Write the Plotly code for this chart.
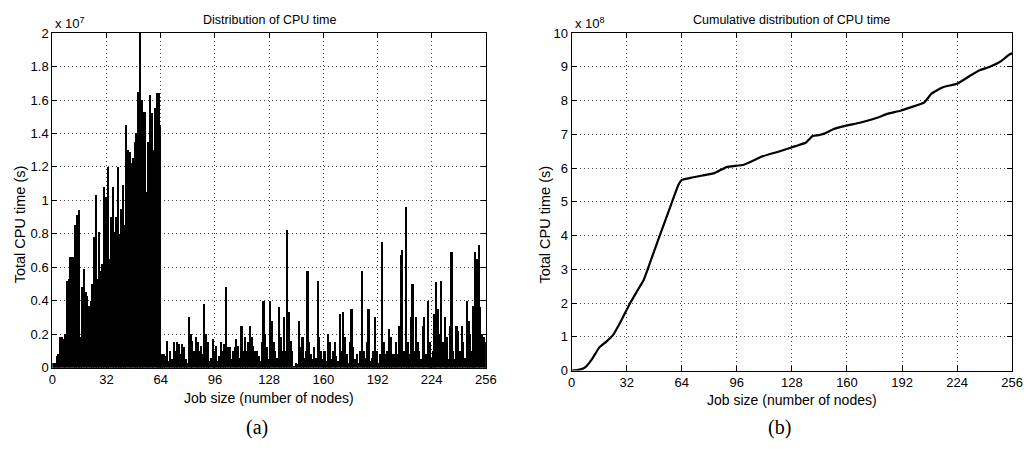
import plotly.graph_objects as go
import numpy as np

# ---------------- data ----------------
job_sizes = list(range(1, 257))
# total CPU time per job size, in units of 1e6 s
cpu_time_1e6 = [
    0.3, 0.3, 0.7, 0.8, 1.8, 1.8, 1.7, 2.0, 5.2, 5.3, 6.6, 6.6, 6.6, 8.5, 9.1, 9.4,
    1.8, 4.8, 5.9, 4.5, 4.3, 3.7, 4.0, 5.0, 7.8, 10.3, 5.3, 8.1, 5.8, 6.2, 10.8, 10.2,
    12.0, 6.5, 9.0, 10.8, 8.1, 9.0, 12.0, 8.0, 9.5, 10.9, 8.5, 14.5, 13.0, 12.9, 12.2, 12.5,
    13.5, 14.0, 16.5, 20.0, 16.0, 15.3, 15.3, 10.5, 13.5, 16.3, 15.2, 13.0, 15.5, 16.4, 16.4, 14.5,
    0.8, 0.8, 0.7, 1.6, 0.4, 1.0, 0.5, 1.5, 1.0, 1.5, 1.4, 0.8, 1.4, 1.2, 0.5, 0.3,
    3.0, 2.0, 1.6, 1.0, 1.8, 1.5, 1.0, 1.3, 0.8, 3.8, 2.0, 1.5, 0.4, 0.6, 1.7, 1.0,
    1.3, 0.4, 0.7, 1.5, 1.0, 1.4, 4.8, 1.2, 1.2, 0.5, 1.0, 1.2, 1.7, 1.3, 0.6, 2.5,
    1.0, 1.8, 1.0, 1.5, 2.5, 1.8, 1.3, 1.0, 1.0, 0.7, 0.4, 1.5, 4.0, 2.0, 1.2, 0.5,
    4.0, 2.8, 1.5, 1.0, 0.6, 3.6, 1.8, 1.0, 3.0, 1.0, 8.2, 3.3, 1.6, 1.0, 0.1, 0.3,
    0.2, 2.8, 1.2, 1.8, 0.6, 1.0, 5.8, 1.5, 0.8, 0.5, 1.2, 0.6, 5.2, 1.8, 1.0, 0.5,
    1.0, 0.4, 2.0, 1.5, 0.5, 1.0, 1.5, 0.7, 0.4, 3.2, 1.0, 3.3, 1.8, 0.8, 0.3, 1.5,
    3.5, 1.2, 0.5, 0.8, 0.3, 1.0, 5.8, 1.0, 0.6, 1.5, 3.5, 0.4, 0.6, 1.0, 3.0, 1.0,
    0.3, 0.8, 7.5, 1.5, 0.8, 1.0, 2.3, 1.8, 0.8, 0.8, 1.5, 0.8, 2.5, 6.7, 7.0, 1.0,
    9.6, 1.5, 0.8, 3.0, 5.0, 1.0, 3.0, 1.5, 1.0, 0.5, 2.5, 3.0, 0.8, 4.0, 1.5, 0.6,
    1.0, 3.2, 5.1, 3.5, 2.0, 5.2, 1.5, 3.0, 1.8, 0.5, 2.5, 6.9, 1.0, 0.5, 2.5, 2.2,
    1.0, 2.5, 1.5, 0.6, 4.0, 2.8, 2.0, 1.0, 3.7, 6.9, 6.5, 7.3, 3.6, 2.0, 1.8, 1.5,
]

# cumulative CPU time (units of 1e8 s), read at selected job sizes
cum_nodes = [0, 4, 7, 9, 12, 16, 20, 24, 29, 34, 38, 42, 48, 53, 58, 62, 64,
             70, 76, 83, 90, 100, 111, 121, 130, 136, 140, 144, 148, 152, 159,
             168, 178, 183, 191, 197, 205, 209, 216, 224, 232, 237, 243, 249, 254, 256]
cum_1e8 = [0, 0.02, 0.07, 0.15, 0.35, 0.68, 0.85, 1.05, 1.5, 2.0, 2.35, 2.7, 3.55, 4.25, 4.95, 5.5, 5.65,
           5.72, 5.78, 5.85, 6.03, 6.1, 6.35, 6.5, 6.65, 6.75, 6.95, 6.98, 7.05, 7.15, 7.25,
           7.35, 7.5, 7.6, 7.7, 7.8, 7.95, 8.2, 8.4, 8.5, 8.75, 8.9, 9.0, 9.15, 9.35, 9.4]

x_ticks = [0, 32, 64, 96, 128, 160, 192, 224, 256]
y1_tickvals = [0, 0.2, 0.4, 0.6, 0.8, 1.0, 1.2, 1.4, 1.6, 1.8, 2.0]
y1_ticktext = ["0", "0.2", "0.4", "0.6", "0.8", "1", "1.2", "1.4", "1.6", "1.8", "2"]
y2_tickvals = list(range(0, 11))
y2_ticktext = [str(v) for v in y2_tickvals]

titles = ["Distribution of CPU time", "Cumulative distribution of CPU time"]
xlabel = "Job size (number of nodes)"
ylabel = "Total CPU time (s)"
panel_labels = ["(a)", "(b)"]

# ---------------- figure ----------------
W, H = 1035, 453
FONT = "Liberation Sans, Arial, Helvetica, sans-serif"
SERIF = "Liberation Serif, Times New Roman, serif"

def px(x):
    return x / W

def py(y):
    return 1 - y / H

fig = go.Figure()
fig.add_trace(go.Bar(
    x=job_sizes, y=np.array(cpu_time_1e6) * 1e6 / 1e7,
    marker=dict(color="black", line=dict(width=0)),
    width=1.0, xaxis="x", yaxis="y", showlegend=False,
))
fig.add_trace(go.Scatter(
    x=cum_nodes, y=cum_1e8, mode="lines",
    line=dict(color="black", width=2.2, shape="spline", smoothing=0.4),
    xaxis="x2", yaxis="y2", showlegend=False,
))

L1, R1, T1, B1 = 49, 489, 27, 373
L2, R2, T2, B2 = 576, 1023, 27, 376

axis_common = dict(
    showline=True, linecolor="black", linewidth=1, mirror="ticks",
    ticks="inside", ticklen=5, tickcolor="black", tickwidth=1,
    showgrid=True, gridcolor="#444", griddash="1px,3px", gridwidth=1,
    zeroline=False, tickfont=dict(family=FONT, size=13, color="black"),
)

fig.update_layout(
    width=W, height=H,
    margin=dict(l=0, r=0, t=0, b=0),
    paper_bgcolor="white", plot_bgcolor="white",
    bargap=0,
    xaxis=dict(domain=[px(L1), px(R1)], range=[0, 256], tickvals=x_ticks,
               anchor="y", ticklabelstandoff=0, **axis_common),
    yaxis=dict(domain=[py(B1), py(T1)], range=[0, 2], tickvals=y1_tickvals,
               ticktext=y1_ticktext, anchor="x", **axis_common),
    xaxis2=dict(domain=[px(L2), px(R2)], range=[0, 256], tickvals=x_ticks,
                anchor="y2", ticklabelstandoff=0, **axis_common),
    yaxis2=dict(domain=[py(B2), py(T2)], range=[0, 10], tickvals=y2_tickvals,
                ticktext=y2_ticktext, anchor="x2", **axis_common),
)

ann = []
def text(x, y, s, size=12.5, angle=0, family=FONT, xanchor="center", yanchor="middle"):
    ann.append(dict(x=px(x), y=py(y), xref="paper", yref="paper", text=s,
                    showarrow=False, textangle=angle, xanchor=xanchor, yanchor=yanchor,
                    font=dict(family=family, size=size, color="black")))

text((L1 + R1) / 2, 13, titles[0], size=12.5)
text((L2 + R2) / 2, 13, titles[1], size=12.5)
text((L1 + R1) / 2, 404, xlabel, size=14)
text((L2 + R2) / 2, 406, xlabel, size=14)
text(16, 225, ylabel, size=14.5, angle=-90)
text(549, 225, ylabel, size=14.5, angle=-90)
text(50, 17, "x 10<sup>7</sup>", size=13, xanchor="left")
text(577, 17, "x 10<sup>8</sup>", size=13, xanchor="left")
text(257, 435, panel_labels[0], size=20, family=SERIF)
text(787, 435, panel_labels[1], size=20, family=SERIF)
fig.update_layout(annotations=ann)

fig.write_html("out.html")
